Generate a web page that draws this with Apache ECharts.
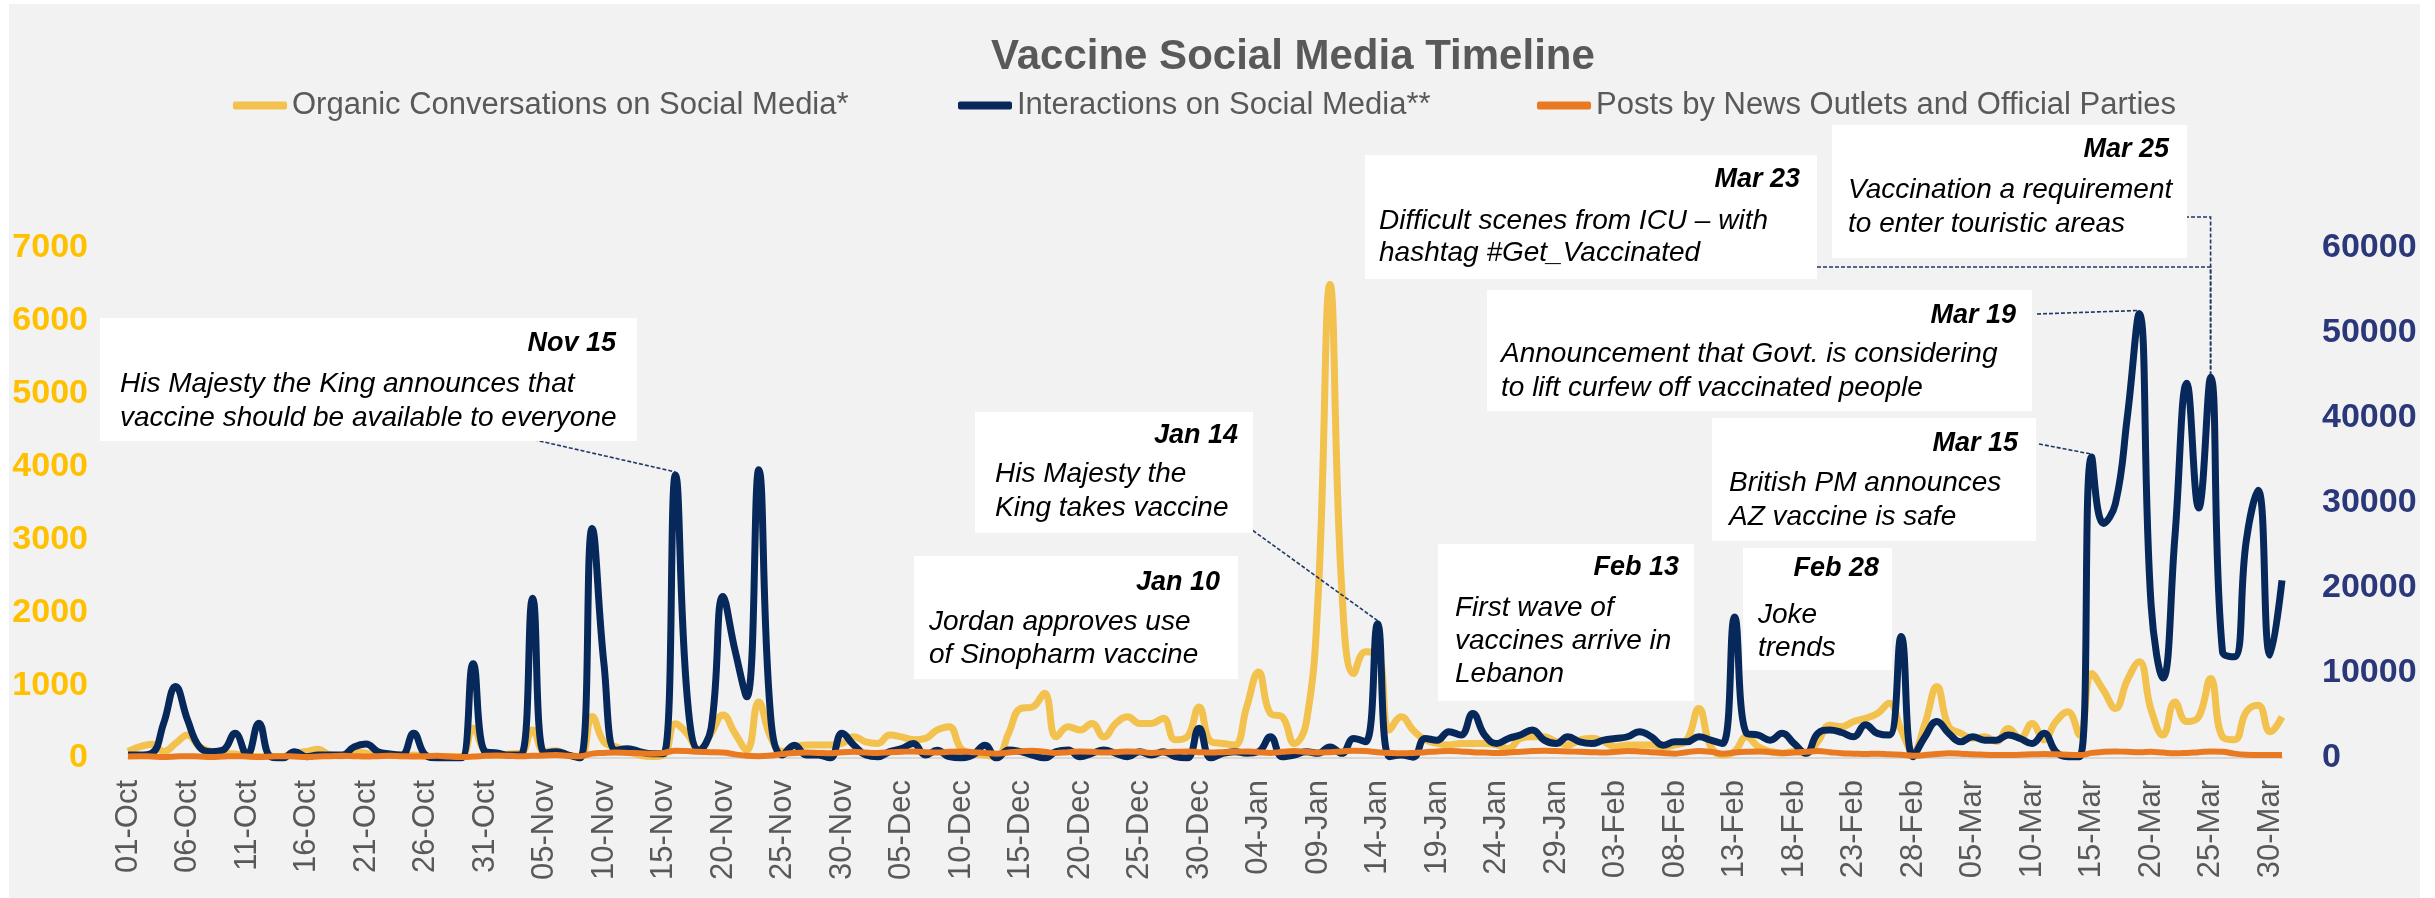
<!DOCTYPE html>
<html><head><meta charset="utf-8">
<script src="https://cdn.jsdelivr.net/npm/echarts/dist/echarts.min.js"></script>
<style>
html,body{margin:0;padding:0;background:#ffffff;}
#bg{position:absolute;left:9px;top:4px;width:2411px;height:894px;background:#F2F2F2;}
#c{position:absolute;left:0;top:0;width:2435px;height:898px;}
</style></head>
<body><div id="bg"></div><div id="c"></div>
<script>
// ---------- DATA ----------
const START_DATE = [2020, 9, 1];   // 01-Oct-2020 (month is 0-based)
const DAY_COUNT = 182;             // 01-Oct .. 31-Mar
const MONTHS = ['Jan','Feb','Mar','Apr','May','Jun','Jul','Aug','Sep','Oct','Nov','Dec'];

const SERIES_NAMES = [
  'Organic Conversations on Social Media*',
  'Interactions on Social Media**',
  'Posts by News Outlets and Official Parties'
];

// Organic conversations (left axis)
const ORGANIC = [
  90,155,190,90,200,315,155,90,65,55,
  30,20,20,20,65,90,120,40,30,90,
  65,40,40,30,40,20,20,20,20,410,
  90,40,55,65,385,90,100,40,20,570,
  220,155,90,40,20,40,470,330,110,340,
  590,340,110,770,290,90,155,180,180,180,
  200,290,220,200,315,290,250,270,385,430,
  130,65,40,20,340,680,700,890,290,430,
  385,475,290,475,565,475,475,545,250,290,
  700,225,200,180,700,1180,610,565,200,475,
  2200,6500,2300,1160,1460,1435,385,565,380,250,
  200,180,200,200,200,180,130,270,290,290,
  225,180,250,270,225,155,180,180,180,155,
  180,250,680,155,40,90,290,155,90,65,
  90,65,225,450,430,500,545,610,750,385,
  90,475,980,430,340,270,290,225,405,270,
  475,250,500,635,315,1160,930,680,1070,1320,
  660,315,770,500,565,1090,290,250,635,725,
  360,565
];

// Interactions (right axis)
const INTERACTIONS = [
  350,350,550,4100,8400,4500,1300,750,950,2900,
  350,4100,150,0,750,150,350,350,350,1300,
  1650,750,470,350,2900,350,0,0,0,11100,
  750,600,350,350,18800,550,750,350,0,27000,
  11000,900,1100,750,500,500,33300,7000,900,3500,
  19000,12700,7200,33900,4900,350,1500,350,350,0,
  2900,1500,350,150,750,1100,1700,350,900,150,
  0,350,1500,0,950,750,350,0,750,950,
  150,550,950,550,150,750,350,750,150,0,
  3500,0,550,750,550,750,2500,150,350,750,
  550,1300,550,2300,1900,15800,150,350,100,2300,
  2100,3100,2700,5250,2700,1700,2300,2700,3300,2100,
  1700,2500,1900,1700,2100,2300,2500,3100,2500,1500,
  1900,1900,2500,2100,1700,16600,2900,2700,2100,2900,
  1700,550,2900,3300,3000,2500,3900,2900,2700,14300,
  150,2500,4300,2900,1900,2500,2100,2100,2700,2300,
  1700,2900,750,150,150,35400,27600,29900,40100,52300,
  18000,9400,26000,44100,29400,44800,12500,11900,25600,31500,
  12100,20900
];

// Posts by news outlets and official parties (left axis)
const POSTS = [
  20,25,20,15,20,25,20,15,20,25,20,15,20,25,20,15,20,25,30,25,20,25,30,25,20,25,30,20,15,20,30,
  35,30,25,30,35,40,30,25,60,70,75,70,65,60,70,100,95,85,80,75,50,30,25,35,55,70,75,70,65,80,
  85,75,70,80,85,90,80,75,85,90,80,70,60,75,90,100,85,70,80,90,85,75,80,90,85,70,80,85,90,80,75,
  80,85,90,80,70,85,95,85,75,80,90,100,95,80,70,65,70,80,90,95,90,80,75,70,75,85,95,100,95,90,85,
  80,75,85,95,90,80,70,60,80,95,85,60,75,85,90,80,70,75,85,95,80,65,60,55,60,50,45,30,
  40,55,65,60,50,45,40,40,45,50,55,50,45,40,70,85,90,85,80,85,75,65,70,80,90,85,60,45,40,40,40
];

const LEFT_TICKS = {min: 0, max: 7000, interval: 1000};
const RIGHT_TICKS = {min: 0, max: 60000, interval: 10000};

// Annotation texts
const NOTE_DATES = ['Nov 15','Jan 10','Jan 14','Feb 13','Feb 28','Mar 15','Mar 19','Mar 23','Mar 25'];
const NOTE_TEXTS = [
  ['His Majesty the King announces that','vaccine should be available to everyone'],
  ['Jordan approves use','of Sinopharm vaccine'],
  ['His Majesty the','King takes vaccine'],
  ['First wave of','vaccines arrive in','Lebanon'],
  ['Joke','trends'],
  ['British PM announces','AZ vaccine is safe'],
  ['Announcement that Govt. is considering','to lift curfew off vaccinated people'],
  ['Difficult scenes from ICU \u2013 with','hashtag #Get_Vaccinated'],
  ['Vaccination a requirement','to enter touristic areas']
];
const NOTE_DAY_INDEX = [45, 101, 105, 135, 150, 165, 169, 173, 175];

// ---------- LAYOUT (pixels) ----------
const BOXES = [
  {x:100, y:318, w:537, h:123, dx:616, dy:344, tx:120, ty:384, ls:34, conn:{type:'line', from:[522,437]}},
  {x:914, y:556, w:324, h:123, dx:1220, dy:583, tx:929, ty:622, ls:33, conn:null},
  {x:975, y:412, w:278, h:121, dx:1238, dy:436, tx:995, ty:474, ls:34, conn:{type:'line', from:[1248,527]}},
  {x:1438, y:544, w:256, h:157, dx:1679, dy:568, tx:1455, ty:608, ls:33, conn:null},
  {x:1743, y:548, w:149, h:122, dx:1879, dy:569, tx:1758, ty:615, ls:33, conn:null},
  {x:1712, y:418, w:324, h:123, dx:2018, dy:444, tx:1729, ty:483, ls:34, conn:{type:'line', from:[2039,444]}},
  {x:1487, y:290, w:545, h:121, dx:2016, dy:316, tx:1501, ty:354, ls:34, conn:{type:'line', from:[2037,314]}},
  {x:1365, y:155, w:452, h:124, dx:1800, dy:180, tx:1379, ty:221, ls:32, conn:{type:'elbow', from:[1817,267]}},
  {x:1832, y:125, w:355, h:133, dx:2169, dy:150, tx:1848, ty:190, ls:34, conn:{type:'elbow', from:[2173,217]}}
];

// ---------- BUILD ----------
const CATEGORIES = [];
for (let i = 0; i < DAY_COUNT; i++) {
  const d = new Date(START_DATE[0], START_DATE[1], START_DATE[2] + i);
  CATEGORIES.push(String(d.getDate()).padStart(2,'0') + '-' + MONTHS[d.getMonth()]);
}

const FONT = "'Liberation Sans', Arial, sans-serif";
const C_ORG = '#F2C14E', C_INT = '#06285A', C_POST = '#E97A22';

const chart = echarts.init(document.getElementById('c'), null, {renderer:'canvas'});

function legendAt(left, name) {
  return {
    data: [name], left: left, top: 90, orient: 'horizontal',
    icon: 'roundRect', itemWidth: 54, itemHeight: 8, itemGap: 0, padding: 0,
    textStyle: {fontSize: 31, color: '#595959', fontFamily: FONT, padding: [0,0,0,0]},
    selectedMode: false
  };
}

const plain = v => String(v);

const option = {
  animation: false,
  backgroundColor: 'transparent',
  title: {
    text: 'Vaccine Social Media Timeline', left: 991, top: 36, padding: 0,
    textStyle: {fontSize: 42, fontWeight: 'bold', color: '#595959', fontFamily: FONT}
  },
  legend: [
    legendAt(233, SERIES_NAMES[0]),
    legendAt(958, SERIES_NAMES[1]),
    legendAt(1537, SERIES_NAMES[2])
  ],
  grid: {left: 128, right: 153, top: 248, bottom: 140, containLabel: false},
  xAxis: {
    type: 'category', data: CATEGORIES, boundaryGap: false,
    axisLine: {show: true, lineStyle: {color: '#D9D9D9', width: 2}},
    axisTick: {show: false},
    axisLabel: {interval: 4, rotate: 90, margin: 22, fontSize: 31, color: '#595959', fontFamily: FONT},
    splitLine: {show: false}
  },
  yAxis: [
    {type: 'value', position: 'left', min: LEFT_TICKS.min, max: LEFT_TICKS.max, interval: LEFT_TICKS.interval,
     axisLine: {show: false}, axisTick: {show: false}, splitLine: {show: false},
     axisLabel: {formatter: plain, margin: 40, fontSize: 34, fontWeight: 'bold', color: '#FFC000', fontFamily: FONT}},
    {type: 'value', position: 'right', min: RIGHT_TICKS.min, max: RIGHT_TICKS.max, interval: RIGHT_TICKS.interval,
     axisLine: {show: false}, axisTick: {show: false}, splitLine: {show: false},
     axisLabel: {formatter: plain, margin: 40, fontSize: 34, fontWeight: 'bold', color: '#2A3779', fontFamily: FONT}}
  ],
  series: [
    {name: SERIES_NAMES[0], type: 'line', yAxisIndex: 0, data: ORGANIC, smooth: 0.45, showSymbol: false,
     lineStyle: {width: 7, color: C_ORG}, itemStyle: {color: C_ORG}, z: 2},
    {name: SERIES_NAMES[1], type: 'line', yAxisIndex: 1, data: INTERACTIONS, smooth: 0.45, showSymbol: false,
     lineStyle: {width: 7, color: C_INT}, itemStyle: {color: C_INT}, z: 3},
    {name: SERIES_NAMES[2], type: 'line', yAxisIndex: 0, data: POSTS, smooth: 0.45, showSymbol: false,
     lineStyle: {width: 6, color: C_POST}, itemStyle: {color: C_POST}, z: 4}
  ]
};
chart.setOption(option);

// ---------- ANNOTATIONS ----------
function peakIndex(center) {
  let best = center;
  for (let i = center - 2; i <= center + 2; i++) {
    if (i >= 0 && i < INTERACTIONS.length && INTERACTIONS[i] > INTERACTIONS[best]) best = i;
  }
  return best;
}

const elements = [];
BOXES.forEach((b, k) => {
  elements.push({type: 'rect', z: 100, shape: {x: b.x, y: b.y, width: b.w, height: b.h},
                 style: {fill: '#FFFFFF'}});
  elements.push({type: 'text', z: 101, x: b.dx, y: b.dy,
                 style: {text: NOTE_DATES[k], fontSize: 27, fontWeight: 'bold', fontStyle: 'italic',
                         fontFamily: FONT, fill: '#000000', textAlign: 'right', align: 'right',
                         textVerticalAlign: 'middle', verticalAlign: 'middle'}});
  NOTE_TEXTS[k].forEach((line, j) => {
    elements.push({type: 'text', z: 101, x: b.tx, y: b.ty + j * b.ls,
                   style: {text: line, fontSize: 28, fontStyle: 'italic', fontFamily: FONT, fill: '#000000',
                           textAlign: 'left', align: 'left', textVerticalAlign: 'middle', verticalAlign: 'middle'}});
  });
  if (b.conn) {
    const pi = peakIndex(NOTE_DAY_INDEX[k]);
    const p = chart.convertToPixel({xAxisIndex: 0, yAxisIndex: 1}, [CATEGORIES[pi], INTERACTIONS[pi]]);
    let pts;
    if (b.conn.type === 'elbow') {
      pts = [b.conn.from, [p[0], b.conn.from[1]], [p[0], p[1] - 3]];
    } else {
      pts = [b.conn.from, [p[0], p[1] - 3]];
    }
    elements.push({type: 'polyline', z: 99, shape: {points: pts},
                   style: {stroke: '#1F3864', lineWidth: 1.6, lineDash: [4, 2], fill: null}});
  }
});
chart.setOption({graphic: {elements: elements}});
</script>
</body></html>
